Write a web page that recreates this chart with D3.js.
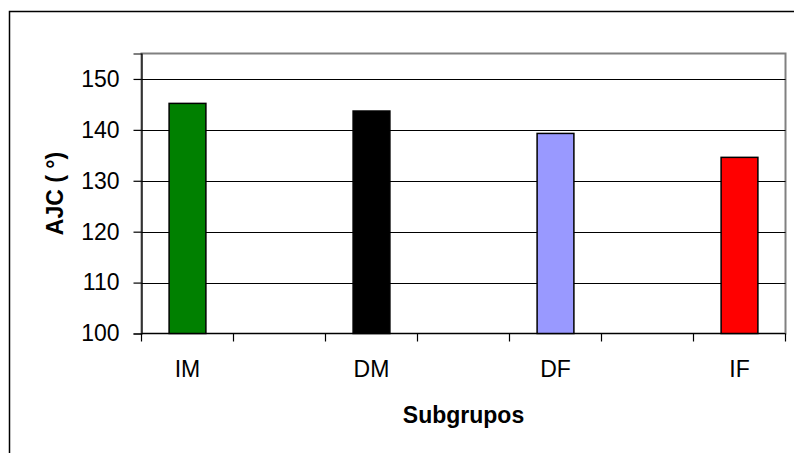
<!DOCTYPE html>
<html>
<head>
<meta charset="utf-8">
<script src="https://cdn.jsdelivr.net/npm/d3@7"></script>
<style>
  html, body { margin: 0; padding: 0; background: #fff; }
  svg { display: block; font-family: "Liberation Sans", Arial, sans-serif; }
</style>
</head>
<body>
<svg id="chart" width="794" height="453"></svg>
<script>
// Category slots along the x axis (empty slots separate the subgroups)
const categories = ["IM", "", "DM", "", "DF", "", "IF"];
const subgroups = ["IM", "DM", "DF", "IF"];
const values = [145.2, 143.7, 139.3, 134.6];
const colors = ["#008000", "#000000", "#9999ff", "#ff0000"];
const yTicks = [100, 110, 120, 130, 140, 150];

const svg = d3.select("#chart");
const plot = { left: 141.5, right: 785.5, top: 53.5, bottom: 333.5 };

const x = d3.scaleBand().domain(d3.range(categories.length))
  .range([plot.left, plot.right]).paddingInner(0).paddingOuter(0);
const y = d3.scaleLinear().domain([100, 155]).range([plot.bottom, plot.top]);

// outer chart frame
svg.append("rect").attr("x", 9.5).attr("y", 11.5).attr("width", 800).attr("height", 460)
  .attr("fill", "#fff").attr("stroke", "#000").attr("stroke-width", 1.5);

// plot area border (gray)
svg.append("rect").attr("x", plot.left).attr("y", plot.top)
  .attr("width", plot.right - plot.left).attr("height", plot.bottom - plot.top)
  .attr("fill", "#fff").attr("stroke", "#808080").attr("stroke-width", 2);

// horizontal gridlines
svg.append("g").selectAll("line").data(yTicks.filter(d => d > 100)).join("line")
  .attr("x1", plot.left).attr("x2", plot.right)
  .attr("y1", d => Math.round(y(d)) + 0.5).attr("y2", d => Math.round(y(d)) + 0.5)
  .attr("stroke", "#000").attr("stroke-width", 1.2);

// bars
svg.append("g").selectAll("rect").data(subgroups).join("rect")
  .attr("x", (d, i) => x(categories.indexOf(d)) + x.bandwidth() * 0.3)
  .attr("width", x.bandwidth() * 0.4)
  .attr("y", (d, i) => y(values[i]))
  .attr("height", (d, i) => y(100) - y(values[i]))
  .attr("fill", (d, i) => colors[i])
  .attr("stroke", "#000").attr("stroke-width", 1.5);

// y axis
const yAxis = svg.append("g").attr("transform", `translate(${plot.left},0)`)
  .call(d3.axisLeft(y).tickValues(yTicks).tickSize(8).tickPadding(14).tickFormat(d3.format("d")));
yAxis.select(".domain").attr("stroke", "#000").attr("stroke-width", 1.2);
yAxis.selectAll(".tick line").attr("stroke", "#000").attr("stroke-width", 1.2);
yAxis.selectAll(".tick text").attr("font-size", 23).attr("fill", "#000")
  .attr("font-family", "Liberation Sans, Arial, sans-serif");

// x axis: ticks at slot boundaries, labels at slot centres
const xg = svg.append("g");
xg.append("line").attr("x1", plot.left).attr("x2", plot.right)
  .attr("y1", plot.bottom).attr("y2", plot.bottom)
  .attr("stroke", "#000").attr("stroke-width", 1.2);
const bounds = d3.range(categories.length + 1).map(i => plot.left + i * x.step());
xg.selectAll("line.tk").data(bounds).join("line").attr("class", "tk")
  .attr("x1", d => d).attr("x2", d => d)
  .attr("y1", plot.bottom).attr("y2", plot.bottom + 8)
  .attr("stroke", "#000").attr("stroke-width", 1.2);
xg.selectAll("text").data(categories.map((c, i) => ({ c, i })).filter(d => d.c)).join("text")
  .attr("x", d => x(d.i) + x.bandwidth() / 2)
  .attr("y", 377)
  .attr("text-anchor", "middle").attr("font-size", 23).attr("fill", "#000")
  .text(d => d.c);

// axis titles
svg.append("text").attr("x", (plot.left + plot.right) / 2).attr("y", 423)
  .attr("text-anchor", "middle").attr("font-size", 23).attr("font-weight", "bold")
  .text("Subgrupos");
svg.append("text").attr("transform", `translate(63,${(plot.top + plot.bottom) / 2}) rotate(-90)`)
  .attr("text-anchor", "middle").attr("font-size", 23).attr("font-weight", "bold")
  .text("AJC ( °)");
</script>
</body>
</html>
